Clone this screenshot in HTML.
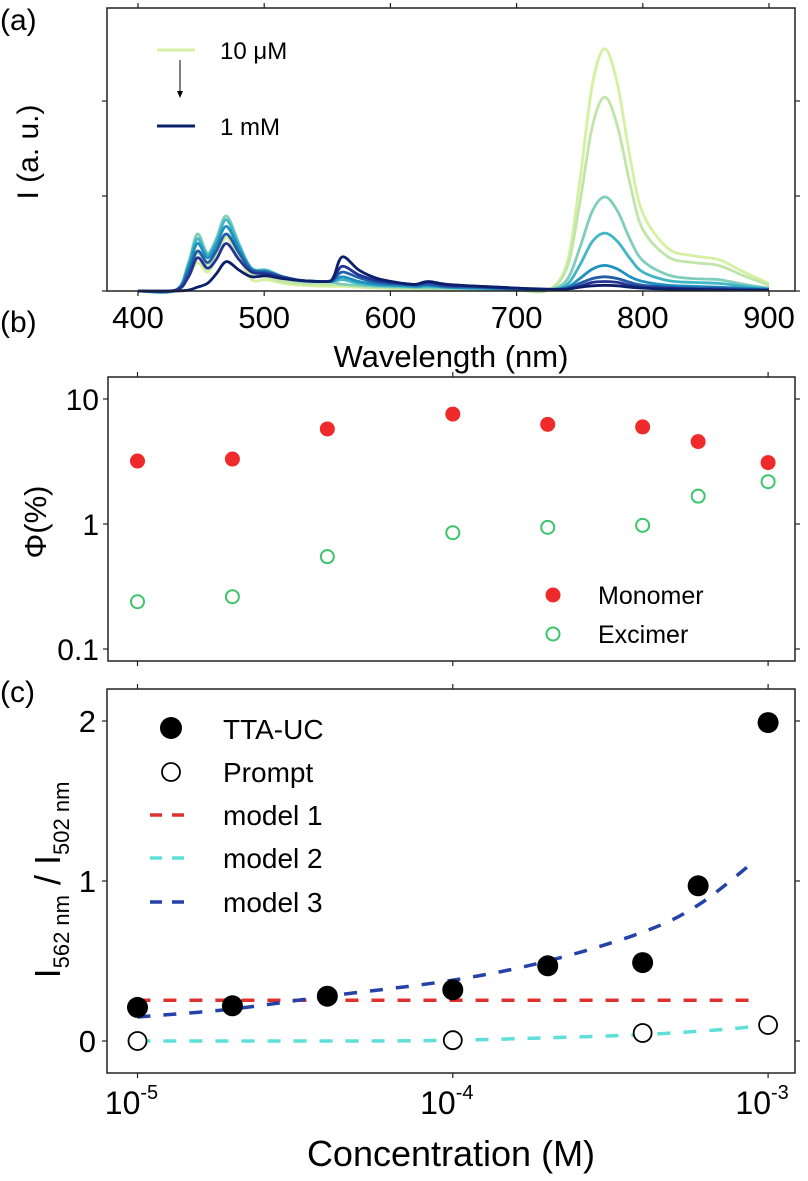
<!DOCTYPE html>
<html><head><meta charset="utf-8"><style>
html,body{margin:0;padding:0;background:#fff}
svg{display:block;font-family:"Liberation Sans",Arial,sans-serif}
</style></head><body>
<svg id="fig" width="808" height="1181" viewBox="0 0 808 1181" xmlns="http://www.w3.org/2000/svg">
<g id="pa"></g>
<g id="pb"></g>
<g id="pc"></g>
</svg>
<script>
// ---------- Panel (a) data ----------
const wavelengths=[400,430,440,447,455,462,470,480,490,502,515,530,550,555,562,575,590,610,620,630,645,670,700,725,740,750,760,770,780,790,800,820,840,860,880,900];
const spec1=[0,0,0.15,0.3,0.2,0.35,0.56,0.35,0.12,0.12,0.08,0.06,0.05,0.05,0.05,0.04,0.03,0.02,0.02,0.02,0.02,0.01,0.01,0.01,0.3,1.15,2.17,2.55,2.17,1.4,0.82,0.45,0.37,0.33,0.2,0.08];
const spec2=[0,0,0.2,0.4,0.28,0.4,0.6,0.4,0.18,0.15,0.1,0.08,0.07,0.07,0.07,0.05,0.04,0.03,0.03,0.03,0.02,0.02,0.01,0.01,0.25,0.92,1.73,2.04,1.73,1.12,0.65,0.36,0.3,0.27,0.16,0.06];
const spec3=[0,0.01,0.3,0.6,0.4,0.55,0.79,0.5,0.22,0.2,0.14,0.1,0.1,0.09,0.07,0.06,0.05,0.04,0.04,0.03,0.03,0.02,0.01,0.01,0.12,0.45,0.84,0.99,0.84,0.54,0.32,0.17,0.13,0.12,0.07,0.03];
const spec4=[0,0.01,0.28,0.55,0.38,0.52,0.75,0.48,0.24,0.22,0.15,0.11,0.1,0.1,0.12,0.08,0.06,0.05,0.04,0.05,0.04,0.03,0.02,0.01,0.07,0.27,0.52,0.61,0.52,0.34,0.2,0.11,0.09,0.08,0.05,0.02];
const spec5=[0,0.01,0.25,0.5,0.35,0.48,0.68,0.45,0.23,0.2,0.15,0.11,0.1,0.11,0.15,0.1,0.07,0.06,0.05,0.06,0.04,0.03,0.02,0.01,0.04,0.13,0.23,0.27,0.23,0.15,0.1,0.06,0.05,0.04,0.03,0.02];
const spec6=[0,0.01,0.2,0.42,0.3,0.42,0.6,0.4,0.22,0.2,0.15,0.11,0.1,0.12,0.2,0.14,0.09,0.07,0.06,0.07,0.05,0.04,0.02,0.01,0.03,0.08,0.13,0.15,0.13,0.09,0.06,0.04,0.03,0.03,0.02,0.01];
const spec7=[0,0.01,0.15,0.35,0.24,0.33,0.5,0.33,0.2,0.18,0.14,0.11,0.1,0.13,0.26,0.17,0.11,0.08,0.07,0.09,0.06,0.05,0.03,0.01,0.02,0.05,0.09,0.1,0.09,0.06,0.04,0.03,0.02,0.02,0.01,0.01];
const spec8=[0,0,0.01,0.04,0.08,0.18,0.31,0.22,0.15,0.16,0.13,0.11,0.1,0.15,0.36,0.22,0.13,0.08,0.07,0.1,0.07,0.05,0.03,0.02,0.02,0.04,0.055,0.06,0.055,0.04,0.03,0.02,0.02,0.01,0.01,0.01];
const specColors=["#d4f0a0","#bfe6a8","#7fcdbb","#41b6c4","#1d91c0","#225ea8","#253494","#0c1f6b"];
const xTicksA=[400,500,600,700,800,900];
const yTicksA=[0,1,2];

// ---------- Panel (b) data ----------
const conc=[1e-5,2e-5,4e-5,1e-4,2e-4,4e-4,6e-4,1e-3];
const monomer=[3.19,3.31,5.76,7.57,6.27,5.98,4.56,3.10];
const excimer=[0.239,0.262,0.548,0.852,0.94,0.975,1.67,2.18];
const yTicksB=[10,1,0.1];
const yTickLabelsB=["10","1","0.1"];

// ---------- Panel (c) data ----------
const ttaUC=[0.21,0.22,0.28,0.32,0.47,0.49,0.97,1.99];
const promptConc=[1e-5,1e-4,4e-4,1e-3];
const promptVal=[0,0.005,0.05,0.10];
const model1Conc=[1e-5,9e-4];
const model1Val=[0.255,0.255];
const model2Conc=[1e-5,5e-5,1e-4,2e-4,4e-4,7e-4,9e-4];
const model2Val=[0,0,0.005,0.02,0.04,0.07,0.09];
const model3Conc=[1e-5,2e-5,4e-5,1e-4,2e-4,4e-4,6e-4,9e-4];
const model3Val=[0.15,0.2,0.28,0.38,0.5,0.68,0.85,1.12];
const yTicksC=[0,1,2];
const xTicksC=[1e-5,1e-4,1e-3];
const xTickExpC=["-5","-4","-3"];

const NS="http://www.w3.org/2000/svg";
function mk(parent,tag,attrs){const e=document.createElementNS(NS,tag);for(const k in attrs)e.setAttribute(k,attrs[k]);parent.appendChild(e);return e;}
function smooth(pts){let d="M"+pts[0][0].toFixed(1)+","+pts[0][1].toFixed(1);
 for(let i=0;i<pts.length-1;i++){const p0=pts[i-1]||pts[i],p1=pts[i],p2=pts[i+1],p3=pts[i+2]||p2;
  const c1=[p1[0]+(p2[0]-p0[0])/6,p1[1]+(p2[1]-p0[1])/6],c2=[p2[0]-(p3[0]-p1[0])/6,p2[1]-(p3[1]-p1[1])/6];
  d+="C"+c1[0].toFixed(1)+","+c1[1].toFixed(1)+" "+c2[0].toFixed(1)+","+c2[1].toFixed(1)+" "+p2[0].toFixed(1)+","+p2[1].toFixed(1);}
 return d;}
function frame(g,x0,y0,x1,y1,name){const r=mk(g,"rect",{x:x0,y:y0,width:x1-x0,height:y1-y0,fill:"none",stroke:"#222","stroke-width":1.5});
 }
function tick(g,x1,y1,x2,y2){const l=mk(g,"line",{x1:x1,y1:y1,x2:x2,y2:y2,stroke:"#222","stroke-width":1.2});
 }
function txt(g,x,y,s,size,anchor,name){const t=mk(g,"text",{x:x,y:y,"font-size":size,"text-anchor":anchor||"start",fill:"#000"});t.textContent=s;
 return t;}

// ===== Panel A =====
(function(){
 const g=document.getElementById('pa');
 const L=107,R=795,T=8,B=291;
 const xA=w=>138+(w-400)*(769-138)/500;
 const yA=v=>B-v*95;
 const series=[spec1,spec2,spec3,spec4,spec5,spec6,spec7,spec8];
 series.forEach((s,i)=>{
  const pts=wavelengths.map((w,j)=>[xA(w),yA(s[j])]);
  const p=mk(g,"path",{d:smooth(pts),fill:"none",stroke:specColors[i],"stroke-width":2.8,"stroke-linejoin":"round"});
  
  
 });
 frame(g,L,T,R,B,'axes-frame-a');
 xTicksA.forEach(w=>{tick(g,xA(w),B,xA(w),B+5);tick(g,xA(w),T,xA(w),T-5);
  txt(g,xA(w),328,String(w),31,"middle",'x-tick-label');});
 yTicksA.forEach(v=>{tick(g,L,yA(v),L-5,yA(v));tick(g,R,yA(v),R+5,yA(v));});
 txt(g,451,367,"Wavelength (nm)",31,"middle",'x-axis-title-a');
 const yl=txt(g,0,0,"I (a. u.)",30,"middle",'y-axis-title-a');yl.setAttribute("transform","translate(38,152) rotate(-90)");
 txt(g,0,30,"(a)",30,"start",'panel-label-a');
 const l1=mk(g,"line",{x1:157,y1:50,x2:195,y2:50,stroke:specColors[0],"stroke-width":3});
 
 txt(g,220,59,"10 μM",24,"start",'legend-label-10uM');
 const l2=mk(g,"line",{x1:157,y1:126,x2:195,y2:126,stroke:specColors[7],"stroke-width":3});
 
 txt(g,220,135,"1 mM",24,"start",'legend-label-1mM');
 const ar=mk(g,"line",{x1:180,y1:60,x2:180,y2:92,stroke:"#000","stroke-width":1});
 
 const ah=mk(g,"path",{d:"M177,91 L183,91 L180,98 Z",fill:"#000"});
 
})();

const xC=c=>137.5+(Math.log10(c)+5)*315.3;

// ===== Panel B =====
(function(){
 const g=document.getElementById('pb');
 const L=108,R=795,T=377,B=661;
 const yB=v=>524-Math.log10(v)*125;
 frame(g,L,T,R,B,'axes-frame-b');
 xTicksC.forEach(c=>{tick(g,xC(c),T,xC(c),T-5);tick(g,xC(c),B,xC(c),B+5);});
 yTicksB.forEach((v,i)=>{tick(g,L,yB(v),L-5,yB(v));tick(g,R,yB(v),R+5,yB(v));
  txt(g,99,yB(v)+11,yTickLabelsB[i],30,"end",'y-tick-label-b');});
 conc.forEach((c,i)=>{
  const m=mk(g,"circle",{cx:xC(c),cy:yB(monomer[i]),r:7.5,fill:"#ee2a2a"});
  
  const e=mk(g,"circle",{cx:xC(c),cy:yB(excimer[i]),r:6.5,fill:"none",stroke:"#3cc46a","stroke-width":2});
  
 });
 const lm=mk(g,"circle",{cx:553,cy:595,r:7.5,fill:"#ee2a2a"});
 
 txt(g,598,604,"Monomer",25,"start",'legend-monomer-label');
 const le=mk(g,"circle",{cx:553,cy:634,r:6.5,fill:"none",stroke:"#3cc46a","stroke-width":2});
 
 txt(g,598,643,"Excimer",25,"start",'legend-excimer-label');
 const yl=txt(g,0,0,"Φ(%)",31,"middle",'y-axis-title-b');yl.setAttribute("transform","translate(46,522) rotate(-90)");
 txt(g,0,332,"(b)",30,"start",'panel-label-b');
})();

// ===== Panel C =====
(function(){
 const g=document.getElementById('pc');
 const L=107,R=795,T=689,B=1073;
 const yC=v=>1041-v*160;
 function dashed(cs,vs,color,name){
  const pts=cs.map((c,i)=>[xC(c),yC(vs[i])]);
  const p=mk(g,"path",{d:smooth(pts),fill:"none",stroke:color,"stroke-width":3.5,"stroke-dasharray":"13,13"});
  
 }
 dashed(model1Conc,model1Val,"#dd3030",'model-1-line');
 dashed(model2Conc,model2Val,"#5ee0d8",'model-2-line');
 dashed(model3Conc,model3Val,"#2442a8",'model-3-line');
 conc.forEach((c,i)=>{const m=mk(g,"circle",{cx:xC(c),cy:yC(ttaUC[i]),r:10.5,fill:"#000"});
  });
 promptConc.forEach((c,i)=>{const m=mk(g,"circle",{cx:xC(c),cy:yC(promptVal[i]),r:9,fill:"#fff",stroke:"#000","stroke-width":1.8});
  });
 frame(g,L,T,R,B,'axes-frame-c');
 xTicksC.forEach((c,i)=>{tick(g,xC(c),T,xC(c),T-5);tick(g,xC(c),B,xC(c),B+5);
  const t=txt(g,xC(c)-6,1114,"10",32,"middle",'x-tick-label-c');
  const s=mk(t,"tspan",{"font-size":20,dy:-15});s.textContent=xTickExpC[i];});
 yTicksC.forEach(v=>{tick(g,L,yC(v),L-5,yC(v));tick(g,R,yC(v),R+5,yC(v));
  txt(g,96,yC(v)+11,String(v),31,"end",'y-tick-label-c');});
 txt(g,451,1166,"Concentration (M)",36,"middle",'x-axis-title-c');
 const yl=txt(g,0,0,"",36,"middle",'y-axis-title-c');
 yl.setAttribute("transform","translate(60,880) rotate(-90)");
 const a=mk(yl,"tspan",{});a.textContent="I";
 const b=mk(yl,"tspan",{"font-size":22,dy:9});b.textContent="562 nm";
 const c2=mk(yl,"tspan",{dy:-9});c2.textContent=" / I";
 const d=mk(yl,"tspan",{"font-size":22,dy:9});d.textContent="502 nm";
 txt(g,0,702,"(c)",30,"start",'panel-label-c');
 // legend
 const m1=mk(g,"circle",{cx:171,cy:728,r:11,fill:"#000"});
 txt(g,223,739,"TTA-UC",28,"start",'legend-tta-label');
 const m2=mk(g,"circle",{cx:171,cy:772,r:9,fill:"#fff",stroke:"#000","stroke-width":1.8});
 txt(g,223,782,"Prompt",28,"start",'legend-prompt-label');
 [["#dd3030",815,"model 1"],["#5ee0d8",858,"model 2"],["#2442a8",902,"model 3"]].forEach((e,i)=>{
  const l=mk(g,"line",{x1:150,y1:e[1],x2:194,y2:e[1],stroke:e[0],"stroke-width":3.5,"stroke-dasharray":"12,10"});
  
  txt(g,223,e[1]+10,e[2],28,"start",'legend-model-label');});
})();
</script>
</body></html>
